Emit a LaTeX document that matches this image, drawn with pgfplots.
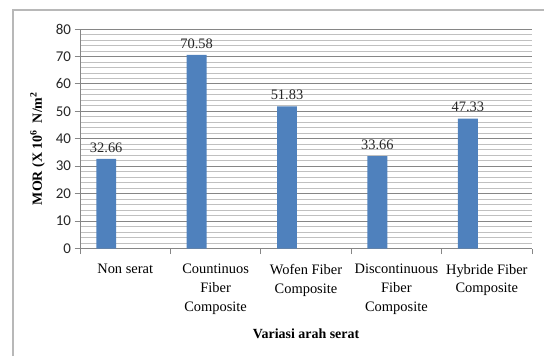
\documentclass[border=0pt]{standalone}
\usepackage{pgfplots}
\pgfplotsset{compat=1.18}
\usepackage{fontspec}
\setmainfont{Liberation Serif}
\newfontfamily\calibri{Carlito}

\definecolor{barblue}{HTML}{4F81BD}
\definecolor{majgrid}{HTML}{868686}
\definecolor{mingrid}{HTML}{C0C0C0}
\definecolor{axisgray}{HTML}{868686}

\begin{document}
\begin{tikzpicture}[x=1bp,y=1bp]
\useasboundingbox (0,0) rectangle (544,356);
% chart area border
\draw[black!28, line width=1.2bp] (13,0) -- (13,346) -- (544,346);
\begin{axis}[
  at={(80bp,107.5bp)}, anchor=south west,
  scale only axis, width=452bp, height=219.5bp,
  xmin=-0.5, xmax=4.5, ymin=0, ymax=80,
  axis x line*=bottom, axis y line*=left,
  axis line style={axisgray, line width=0.9bp},
  ytick={0,10,...,80}, minor ytick={2,4,...,78},
  ymajorgrids, yminorgrids,
  major grid style={majgrid, line width=0.9bp},
  minor grid style={mingrid, line width=0.8bp},
  xtick={-0.5,0.5,...,4.5}, xticklabels={},
  extra x ticks={0,1,2,3,4},
  extra x tick labels={Non serat, {Countinuos\\Fiber\\Composite}, {Wofen Fiber\\Composite}, {Discontinuous\\Fiber\\Composite}, {Hybride Fiber\\Composite}},
  extra x tick style={major tick length=0pt, grid=none},
  tick align=outside, major tick length=5.5bp, minor tick length=0pt,
  tick style={axisgray, line width=0.9bp},
  xticklabel style={font=\fontsize{14.5}{19}\selectfont, align=center, yshift=-12bp},
  yticklabel style={font=\calibri\fontsize{15}{16}\selectfont, text=black!85},
  /pgf/number format/assume math mode=true,
  xlabel={\bfseries Variasi arah serat},
  xlabel style={at={(axis description cs:0.5,-0.39)}, anchor=center, font=\fontsize{14}{16}\selectfont},
  ylabel={\bfseries MOR (X 10\textsuperscript{6}\ \ N/m\textsuperscript{2}},
  ylabel style={at={(axis description cs:-0.094,0.455)}, anchor=center, font=\fontsize{14}{16}\selectfont},
  ybar, bar width=0.22,
  nodes near coords,
  every node near coord/.append style={font=\fontsize{14.5}{16}\selectfont, text=black!85, yshift=3bp},
]
\addplot[fill=barblue, draw=none] coordinates {
  (-0.21,32.66) (0.79,70.58) (1.79,51.83) (2.79,33.66) (3.79,47.33)
};
\end{axis}
\end{tikzpicture}
\end{document}
